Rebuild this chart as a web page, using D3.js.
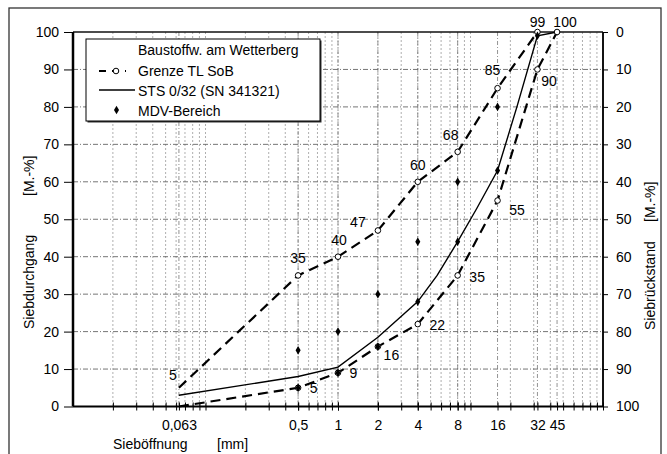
<!DOCTYPE html>
<html>
<head>
<meta charset="utf-8">
<script src="https://cdn.jsdelivr.net/npm/d3@7"></script>
<style>
  html, body { margin: 0; padding: 0; background: #fff; }
  svg { display: block; font-family: Arial, "Liberation Sans", sans-serif; }
</style>
</head>
<body>
<svg id="chart" width="667" height="454"></svg>
<script>
// Sieve sizes shown on the x axis [mm] and their labels
const sieveTicks = [0.063, 0.5, 1, 2, 4, 8, 16, 32, 45];
const sieveTickLabels = ["0,063", "0,5", "1", "2", "4", "8", "16", "32", "45"];
const passTicks = [0, 10, 20, 30, 40, 50, 60, 70, 80, 90, 100];

// Grenze TL SoB — upper limit curve
const upperSizes = [0.063, 0.5, 1, 2, 4, 8, 16, 32];
const upperValues = [5, 35, 40, 47, 60, 68, 85, 100];

// Grenze TL SoB — lower limit curve
const lowerSizes = [0.063, 0.5, 1, 2, 4, 8, 16, 32, 45];
const lowerValues = [0, 5, 9, 16, 22, 35, 55, 90, 100];

// STS 0/32 (SN 341321)
const stsSizes = [0.063, 0.5, 1, 2, 4, 5.6, 8, 11.2, 16, 22.4, 32, 45];
const stsValues = [3, 8, 10.5, 18.5, 28, 35, 44, 53, 63, 80, 99, 100];

// MDV-Bereich — upper and lower points
const mdvUpperSizes = [0.5, 1, 2, 4, 8, 16];
const mdvUpperValues = [15, 20, 30, 44, 60, 80];
const mdvLowerSizes = [0.5, 1, 2, 4, 8, 16, 32];
const mdvLowerValues = [5, 9, 16, 28, 44, 63, 99];

const zip = (xs, ys) => xs.map((s, i) => ({ s, v: ys[i] }));
const upper = zip(upperSizes, upperValues);
const lower = zip(lowerSizes, lowerValues);
const sts = zip(stsSizes, stsValues);
const mdv = zip(mdvUpperSizes, mdvUpperValues).concat(zip(mdvLowerSizes, mdvLowerValues));

const svg = d3.select("#chart");
const L = 73, R = 603, T = 32, B = 406.5;

const x = d3.scaleLog().domain([0.01, 100]).range([L, R]);
const y = d3.scaleLinear().domain([0, 100]).range([B, T]);
const yRest = d3.scaleLinear().domain([100, 0]).range([B, T]);

// outer frame
svg.append("rect").attr("x", 9).attr("y", 8).attr("width", 652).attr("height", 470)
  .attr("fill", "none").attr("stroke", "#333").attr("stroke-width", 1.3);

// log grid (minor decades)
const minor = [];
[0.01, 0.1, 1, 10].forEach(d => { for (let k = 1; k <= 9; k++) minor.push(+(d * k).toPrecision(3)); });
minor.push(100);

const grid = svg.append("g");
grid.selectAll("line.vm").data(minor.filter(v => v > 0.01 && v < 100)).join("line")
  .attr("x1", d => x(d)).attr("x2", d => x(d)).attr("y1", T).attr("y2", B)
  .attr("stroke", "#9a9a9a").attr("stroke-width", 0.8).attr("stroke-dasharray", "2,2");
grid.selectAll("line.vs").data(sieveTicks).join("line")
  .attr("x1", d => x(d)).attr("x2", d => x(d)).attr("y1", T).attr("y2", B)
  .attr("stroke", "#777").attr("stroke-width", 0.8).attr("stroke-dasharray", "4,2,1,2");
grid.selectAll("line.h").data(passTicks.filter(v => v > 0 && v < 100)).join("line")
  .attr("x1", L).attr("x2", R).attr("y1", d => y(d)).attr("y2", d => y(d))
  .attr("stroke", "#666").attr("stroke-width", 0.9).attr("stroke-dasharray", "5,2,1,2");

// frame of the plot area
svg.append("line").attr("x1", L).attr("x2", R).attr("y1", T).attr("y2", T).attr("stroke", "#111").attr("stroke-width", 1.5);
svg.append("line").attr("x1", R).attr("x2", R).attr("y1", T).attr("y2", B).attr("stroke", "#111").attr("stroke-width", 1.5);

// left axis: Siebdurchgang
const axL = svg.append("g").attr("transform", `translate(${L},0)`)
  .call(d3.axisLeft(y).tickValues(passTicks).tickSize(9).tickPadding(5));
// right axis: Siebrückstand
const axR = svg.append("g").attr("transform", `translate(${R},0)`)
  .call(d3.axisRight(yRest).tickValues(passTicks).tickSize(5).tickPadding(8));
// bottom axis: minor ticks and labelled sieve sizes
const axBm = svg.append("g").attr("transform", `translate(0,${B})`)
  .call(d3.axisBottom(x).tickValues(minor.filter(v => v > 0.01)).tickSize(4).tickFormat(""));
axBm.selectAll(".tick line").attr("y1", -4);
const axB = svg.append("g").attr("transform", `translate(0,${B})`)
  .call(d3.axisBottom(x).tickValues(sieveTicks).tickSize(4).tickPadding(10)
    .tickFormat((d, i) => sieveTickLabels[i]));
axB.selectAll(".tick line").attr("y1", -4);

[axL, axR, axBm, axB].forEach(g => {
  g.selectAll("text").attr("font-size", 14).attr("fill", "#000")
    .attr("font-family", "Arial, 'Liberation Sans', sans-serif");
  g.selectAll(".tick line").attr("stroke", "#000").attr("stroke-width", 1);
});
axL.select(".domain").attr("stroke", "#000").attr("stroke-width", 2.5).attr("d", `M0,${T}V${B}`);
axR.select(".domain").attr("stroke", "#000").attr("stroke-width", 1.5).attr("d", `M0,${T}V${B}`);
axB.select(".domain").attr("stroke", "#000").attr("stroke-width", 2).attr("d", `M${L},0H${R}`);
axBm.select(".domain").remove();

// curves
const line = d3.line().x(d => x(d.s)).y(d => y(d.v));
svg.append("path").datum(upper).attr("d", line).attr("fill", "none")
  .attr("stroke", "#000").attr("stroke-width", 2.2).attr("stroke-dasharray", "10,6");
svg.append("path").datum(lower).attr("d", line).attr("fill", "none")
  .attr("stroke", "#000").attr("stroke-width", 2.2).attr("stroke-dasharray", "10,6");
svg.append("path").datum(sts).attr("d", line).attr("fill", "none")
  .attr("stroke", "#000").attr("stroke-width", 1.4);

// limit markers (open circles)
const limitPts = upper.filter(d => d.s > 0.063).concat(lower.filter(d => d.s > 0.063));
svg.selectAll("circle.lim").data(limitPts).join("circle")
  .attr("cx", d => x(d.s)).attr("cy", d => y(d.v)).attr("r", 2.8)
  .attr("fill", "#fff").attr("stroke", "#000").attr("stroke-width", 1);

// MDV-Bereich points
const diamond = d3.symbol().type(d3.symbolDiamond).size(22);
svg.selectAll("path.mdv").data(mdv).join("path")
  .attr("transform", d => `translate(${x(d.s)},${y(d.v)})`)
  .attr("d", diamond).attr("fill", "#000");

// value labels next to the curves
const labelSpecs = [
  { set: upper, s: 0.063, dx: -6, dy: -8 },
  { set: upper, s: 0.5, dx: 0, dy: -12 },
  { set: upper, s: 1, dx: 1, dy: -11.5 },
  { set: upper, s: 2, dx: -20, dy: -3 },
  { set: upper, s: 4, dx: 0, dy: -12 },
  { set: upper, s: 8, dx: -7, dy: -12 },
  { set: upper, s: 16, dx: -5, dy: -13.5 },
  { set: sts, s: 32, dx: 0, dy: -9 },
  { set: lower, s: 45, dx: 8, dy: -5 },
  { set: lower, s: 32, dx: 11.5, dy: 17 },
  { set: lower, s: 16, dx: 19.5, dy: 14.5 },
  { set: lower, s: 8, dx: 19.5, dy: 6.5 },
  { set: lower, s: 4, dx: 19.5, dy: 6 },
  { set: lower, s: 2, dx: 13.5, dy: 13.5 },
  { set: lower, s: 1, dx: 15.5, dy: 5 },
  { set: lower, s: 0.5, dx: 15.5, dy: 5 }
];
svg.selectAll("text.val").data(labelSpecs).join("text")
  .each(function (d) { d.p = d.set.find(p => p.s === d.s); })
  .attr("x", d => x(d.p.s) + d.dx).attr("y", d => y(d.p.v) + d.dy)
  .attr("text-anchor", "middle").attr("font-size", 14)
  .text(d => d.p.v);

// axis titles
svg.append("text").attr("transform", "translate(34,329) rotate(-90)")
  .attr("font-size", 14).text("Siebdurchgang");
svg.append("text").attr("transform", "translate(34,196) rotate(-90)")
  .attr("font-size", 14).text("[M.-%]");
svg.append("text").attr("transform", "translate(655,330) rotate(-90)")
  .attr("font-size", 14).text("Siebrückstand");
svg.append("text").attr("transform", "translate(655,222) rotate(-90)")
  .attr("font-size", 14).text("[M.-%]");
svg.append("text").attr("x", 113).attr("y", 449).attr("font-size", 14).text("Sieböffnung");
svg.append("text").attr("x", 217).attr("y", 449).attr("font-size", 14).text("[mm]");

// legend
const lg = svg.append("g");
lg.append("rect").attr("x", 87.5).attr("y", 40.5).attr("width", 234).attr("height", 82).attr("fill", "#333");
lg.append("rect").attr("x", 86).attr("y", 39).attr("width", 234).attr("height", 82)
  .attr("fill", "#fff").attr("stroke", "#000").attr("stroke-width", 1);
lg.append("text").attr("x", 138).attr("y", 55).attr("font-size", 14).text("Baustoffw. am Wetterberg");
lg.append("line").attr("x1", 99).attr("x2", 126).attr("y1", 71).attr("y2", 71)
  .attr("stroke", "#000").attr("stroke-width", 2.2).attr("stroke-dasharray", "7,6");
lg.append("circle").attr("cx", 116).attr("cy", 71).attr("r", 2.8)
  .attr("fill", "#fff").attr("stroke", "#000");
lg.append("text").attr("x", 138).attr("y", 76).attr("font-size", 14).text("Grenze TL SoB");
lg.append("line").attr("x1", 99).attr("x2", 135).attr("y1", 90).attr("y2", 90)
  .attr("stroke", "#000").attr("stroke-width", 1.4);
lg.append("text").attr("x", 138).attr("y", 96).attr("font-size", 14).text("STS 0/32 (SN 341321)");
lg.append("path").attr("transform", "translate(116.5,110)").attr("d", diamond).attr("fill", "#000");
lg.append("text").attr("x", 138).attr("y", 116).attr("font-size", 14).text("MDV-Bereich");
</script>
</body>
</html>
